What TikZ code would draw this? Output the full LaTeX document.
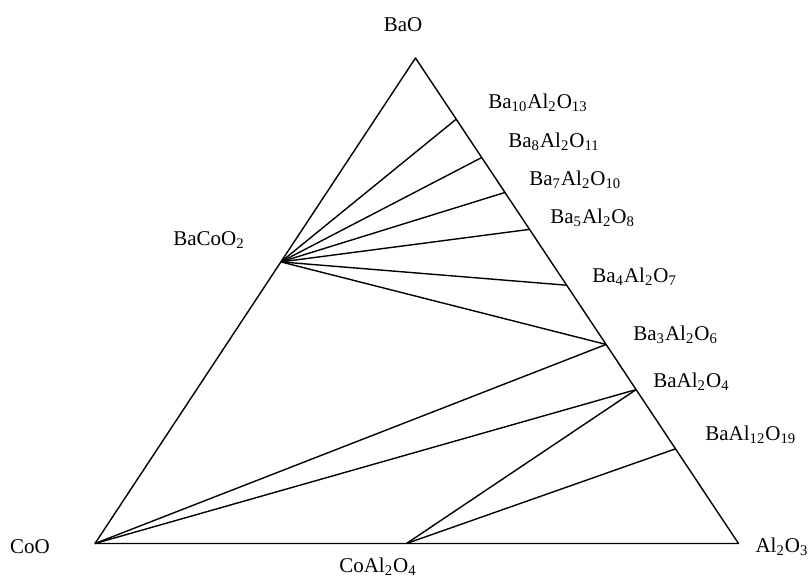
\documentclass[tikz,border=0pt]{standalone}
\usepackage{fontspec}
\setmainfont{Liberation Serif}
\usetikzlibrary{calc,positioning}
\newcommand{\chsub}[1]{\textsubscript{#1}}
\tikzset{
  phase/.style={font=\fontsize{10.5}{12}\selectfont,inner sep=0pt},
  phaseR/.style={phase,anchor=west},
  tieline/.style={line width=0.7pt,line join=round},
}

\begin{document}
\begin{tikzpicture}[x=0.5pt,y=-0.5pt]
  \useasboundingbox (0,0) rectangle (808,577);
  % corners of the triangle
  \coordinate (bao) at (415.5,58);
  \coordinate (coo) at (95,543.5);
  \coordinate (al2o3) at (738.5,543.5);
  % compounds on the edges
  \coordinate (coal) at (406.5,543.5);
  \coordinate (bacoo) at ($(coo)!0.580!(bao)$);
  \coordinate (ba10) at ($(bao)!0.126!(al2o3)$);
  \coordinate (ba8) at ($(bao)!0.205!(al2o3)$);
  \coordinate (ba7) at ($(bao)!0.277!(al2o3)$);
  \coordinate (ba5) at ($(bao)!0.353!(al2o3)$);
  \coordinate (ba4) at ($(bao)!0.468!(al2o3)$);
  \coordinate (ba3) at ($(bao)!0.590!(al2o3)$);
  \coordinate (ba1) at ($(bao)!0.683!(al2o3)$);
  \coordinate (ba12) at ($(bao)!0.805!(al2o3)$);

  \draw[tieline] (coo) -- (bao) -- (al2o3) -- cycle;
  \foreach \p in {ba10,ba8,ba7,ba5,ba4,ba3}
    \draw[tieline] (bacoo) -- (\p);
  \draw[tieline] (coo) -- (ba3);
  \draw[tieline] (coo) -- (ba1);
  \draw[tieline] (coal) -- (ba1);
  \draw[tieline] (coal) -- (ba12);

  % labels
  \node[phase] (lbao) at (403,25) {BaO};
  \node[phase] (lcoo) at (30,547) {CoO};
  \node[phase] (lal2o3) at (782,547) {Al\chsub{2}O\chsub{3}};
  \node[phase] (lcoal) at (378,567) {CoAl\chsub{2}O\chsub{4}};
  \node[phase] (lbacoo) at (209,240) {BaCoO\chsub{2}};
  \node[phaseR] (lba10) at (488,103) {Ba\chsub{10}Al\chsub{2}O\chsub{13}};
  \node[phaseR] (lba8) at (508,142) {Ba\chsub{8}Al\chsub{2}O\chsub{11}};
  \node[phaseR] (lba7) at (529,180) {Ba\chsub{7}Al\chsub{2}O\chsub{10}};
  \node[phaseR] (lba5) at (550,218) {Ba\chsub{5}Al\chsub{2}O\chsub{8}};
  \node[phaseR] (lba4) at (592,277) {Ba\chsub{4}Al\chsub{2}O\chsub{7}};
  \node[phaseR] (lba3) at (633,335) {Ba\chsub{3}Al\chsub{2}O\chsub{6}};
  \node[phaseR] (lba1) at (653,382) {BaAl\chsub{2}O\chsub{4}};
  \node[phaseR] (lba12) at (705,435) {BaAl\chsub{12}O\chsub{19}};
\end{tikzpicture}
\end{document}
